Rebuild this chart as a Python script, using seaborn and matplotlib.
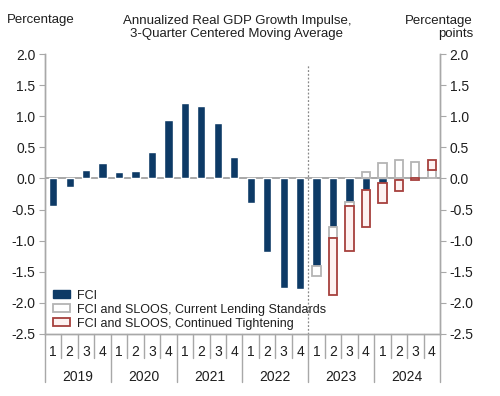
import matplotlib
matplotlib.use("Agg")
import matplotlib.pyplot as plt
import matplotlib.transforms as mtransforms
from matplotlib.patches import Patch
import seaborn as sns
import numpy as np
import pandas as pd

# data
years = ['2019', '2020', '2021', '2022', '2023', '2024']
quarters = ['1', '2', '3', '4']
fci = [-0.44, -0.14, 0.14, 0.25, 0.10, 0.12, 0.42, 0.94,
       1.21, 1.16, 0.89, 0.35, -0.40, -1.18, -1.76, -1.78,
       -1.40, -0.78, -0.38, -0.18, -0.07, -0.02, 0.0, 0.0]
sloos_current = [0.0] * 16 + [-0.17, -0.17, -0.07, 0.11, 0.25, 0.29, 0.27, 0.13]
sloos_tight = [0.0] * 16 + [0.0, -0.92, -0.72, -0.60, -0.33, -0.18, -0.03, 0.17]
yticks = [2.0, 1.5, 1.0, 0.5, 0.0, -0.5, -1.0, -1.5, -2.0, -2.5]

navy = '#0d3a66'
gray_edge = '#b4b4b4'
red_edge = '#a6403d'
line_gray = '#a8a8a8'
txt = '#1e1e1e'

sns.set_style('white')
plt.rcParams['font.family'] = ['Liberation Sans', 'DejaVu Sans']

periods = [y + ' Q' + q for y in years for q in quarters]
df = pd.DataFrame({'period': periods, 'FCI': fci})

fig = plt.figure(figsize=(5, 3.96), dpi=100)
ax = fig.add_axes([0.09, 0.1566, 0.79, 0.707])

# FCI bars
sns.barplot(data=df, x='period', y='FCI', order=periods, color=navy,
            saturation=1, width=0.5, ax=ax, zorder=3)

# stacked SLOOS boxes
pos_base = np.where(np.array(fci) > 0, fci, 0.0)
neg_base = np.where(np.array(fci) < 0, fci, 0.0)
xpos = np.arange(len(periods))
for vals, ec, fc in [(sloos_current, gray_edge, 'white'),
                     (sloos_tight, red_edge, '#fdf2f1')]:
    vals = np.array(vals)
    bottom = np.where(vals >= 0, pos_base, neg_base)
    mask = vals != 0
    ax.bar(xpos[mask], vals[mask], bottom=bottom[mask], width=0.5,
           facecolor=fc, edgecolor=ec, linewidth=1.3, zorder=3)
    pos_base = pos_base + np.where(vals > 0, vals, 0)
    neg_base = neg_base + np.where(vals < 0, vals, 0)

ax.set_xlim(-0.5, len(periods) - 0.5)
ax.set_ylim(-2.5, 2.0)
ax.axhline(0, color=line_gray, lw=1.4, zorder=2)
ax.plot([15.5, 15.5], [-2.5, 1.82], ls=(0, (1.5, 1.5)), color='#888888', lw=0.9)

# y axes
ax.set_yticks(yticks)
ax.yaxis.set_major_formatter(matplotlib.ticker.FormatStrFormatter('%.1f'))
ax.tick_params(axis='y', direction='out', length=4, color=line_gray,
               labelsize=10, labelcolor=txt, pad=3)
ax2 = ax.twinx()
ax2.set_ylim(-2.5, 2.0)
ax2.set_yticks(yticks)
ax2.yaxis.set_major_formatter(matplotlib.ticker.FormatStrFormatter('%.1f'))
ax2.tick_params(axis='y', direction='out', length=4, color=line_gray,
                labelsize=10, labelcolor=txt, pad=3)
for a in (ax, ax2):
    a.spines['top'].set_visible(False)
    for s in ('left', 'right', 'bottom'):
        a.spines[s].set_color(line_gray)
        a.spines[s].set_linewidth(1.0)
ax.set_xticks([])
ax.set_xlabel('')
ax.set_ylabel('')

# category axis: quarters and years
trans = mtransforms.blended_transform_factory(ax.transData, ax.transAxes)
for i, p in enumerate(periods):
    ax.text(i, -0.064, p[-1], transform=trans, ha='center', va='center',
            fontsize=10, color=txt)
for b in range(len(periods) + 1):
    low = -0.171 if b % 4 == 0 else -0.086
    ax.plot([b - 0.5, b - 0.5], [0, low], transform=trans, color=line_gray,
            lw=1.0, clip_on=False)
for j, y in enumerate(years):
    ax.text(j * 4 + 1.5, -0.154, y, transform=trans, ha='center', va='center',
            fontsize=10, color=txt)

# legend
handles = [Patch(facecolor=navy, edgecolor=navy),
           Patch(facecolor='white', edgecolor=gray_edge, linewidth=1.3),
           Patch(facecolor='#fdf2f1', edgecolor=red_edge, linewidth=1.3)]
labels = ['FCI', 'FCI and SLOOS, Current Lending Standards',
          'FCI and SLOOS, Continued Tightening']
ax.legend(handles, labels, loc='lower left', bbox_to_anchor=(0.02, 0.016),
          frameon=False, fontsize=9, handlelength=1.4, handleheight=0.6,
          handletextpad=0.5, labelspacing=0.15, borderpad=0, borderaxespad=0,
          labelcolor=txt)

# header texts
fig.text(0.082, 0.95, 'Percentage', ha='center', va='center', fontsize=9.5, color=txt)
fig.text(0.474, 0.931, 'Annualized Real GDP Growth Impulse,\n3-Quarter Centered Moving Average',
         ha='center', va='center', fontsize=9.5, color=txt, linespacing=1.1)
fig.text(0.946, 0.931, 'Percentage\npoints', ha='right', va='center', fontsize=9.5,
         color=txt, linespacing=1.1)

fig.savefig('out.png', dpi=100)
